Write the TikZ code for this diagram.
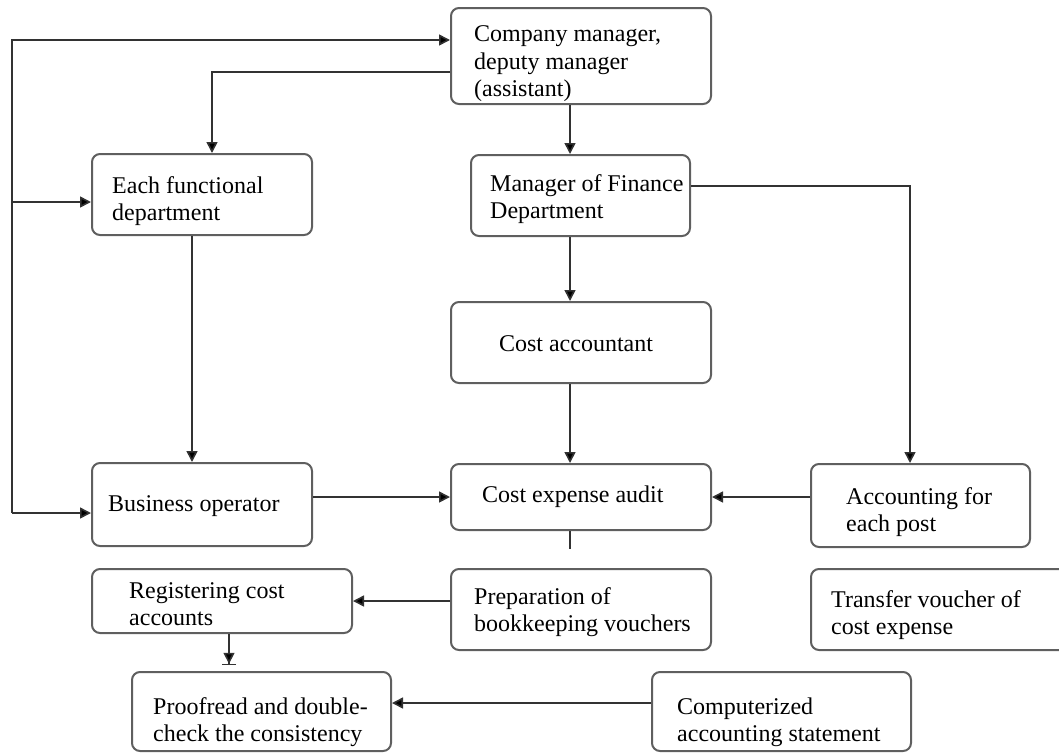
\documentclass[tikz,border=0pt]{standalone}
\usepackage{fontspec}
\setmainfont{Liberation Serif}
\usetikzlibrary{arrows.meta}
\definecolor{boxgray}{RGB}{95,95,95}
\definecolor{linegray}{RGB}{50,50,50}
\begin{document}
\begin{tikzpicture}[x=1pt,y=-1pt,
  box/.style={draw=boxgray, line width=2pt, rounded corners=8pt, inner sep=0pt, fill=white},
  txt/.style={align=left, inner sep=0pt, anchor=west, yshift=-3pt, font=\fontsize{24}{27.5}\selectfont},
  ln/.style={draw=linegray, line width=1.6pt},
  arr/.style={ln, -{Triangle[length=11pt,width=11pt,fill=black]}}]
\useasboundingbox (0,0) rectangle (1059,753);

% boxes
\node[box, minimum width=260pt, minimum height=96pt] (comp) at (581,56) {};
\node[box, minimum width=220pt, minimum height=81pt] (efd) at (202,194.5) {};
\node[box, minimum width=219pt, minimum height=81pt] (mfd) at (580.5,195.5) {};
\node[box, minimum width=260pt, minimum height=81pt] (ca) at (581,342.5) {};
\node[box, minimum width=220pt, minimum height=83pt] (bo) at (202,504.5) {};
\node[box, minimum width=260pt, minimum height=66pt] (cea) at (581,497) {};
\node[box, minimum width=219pt, minimum height=83pt] (acc) at (920.5,505.5) {};
\node[box, minimum width=260pt, minimum height=81pt] (prep) at (581,609.5) {};
\node[box, minimum width=260pt, minimum height=81pt] (tv) at (941,609.5) {};
\node[box, minimum width=260pt, minimum height=64pt] (reg) at (222,601) {};
\node[box, minimum width=259pt, minimum height=79pt] (proof) at (261.5,711.5) {};
\node[box, minimum width=259pt, minimum height=79pt] (cs) at (781.5,711.5) {};

% texts
\node[txt] (comp-t) at (474,61) {Company manager,\\deputy manager\\(assistant)};
\node[txt] (efd-t) at (112,198) {Each functional\\department};
\node[txt] (mfd-t) at (490,196) {Manager of Finance\\Department};
\node[txt, anchor=center] (ca-t) at (576,341) {Cost accountant};
\node[txt] (bo-t) at (108,503) {Business operator};
\node[txt] (cea-t) at (482,494) {Cost expense audit};
\node[txt] (acc-t) at (846,509) {Accounting for\\each post};
\node[txt] (prep-t) at (474,609) {Preparation of\\bookkeeping vouchers};
\node[txt] (tv-t) at (831,612) {Transfer voucher of\\cost expense};
\node[txt] (reg-t) at (129,601) {Registering cost\\accounts};
\node[txt] (proof-t) at (153,719) {Proofread and double-\\check the consistency};
\node[txt] (cs-t) at (677,719) {Computerized\\accounting statement};

% helper coordinates
\coordinate (lt) at (12,40);
\coordinate (lm) at (12,202);
\coordinate (lb) at (12,513);
\coordinate (c1) at (212,72);
\coordinate (mx) at (570,0);
\coordinate (lx) at (192,0);
\coordinate (r1) at (910,186);
\coordinate (rx) at (229,0);
\coordinate (py) at (0,703);

% connectors
\draw[arr] (lb) -- (lt) -- (comp.west |- lt);
\draw[arr] (lb) -- (bo.west |- lb);
\draw[arr] (lm) -- (efd.west |- lm);
\draw[arr] (comp.west |- c1) -- (c1) -- (c1 |- efd.north);
\draw[arr] (comp.south -| mx) -- (mfd.north -| mx);
\draw[arr] (mfd.south -| mx) -- (ca.north -| mx);
\draw[arr] (ca.south -| mx) -- (cea.north -| mx);
\draw[ln] (cea.south -| mx) -- ++(0,18);
\draw[arr] (mfd.east |- r1) -- (r1) -- (r1 |- acc.north);
\draw[arr] (efd.south -| lx) -- (bo.north -| lx);
\draw[arr] (bo.east |- cea.west) -- (cea.west);
\draw[arr] (acc.west |- cea.east) -- (cea.east);
\draw[arr] (prep.west |- reg.east) -- (reg.east);
\draw[ln, -{Triangle[length=11pt,width=11pt,fill=black]Bar[width=14pt,line width=1.2pt]}, shorten >=6pt] (reg.south -| rx) -- (proof.north -| rx);
\draw[arr] (cs.west |- py) -- (proof.east |- py);
\end{tikzpicture}
\end{document}
